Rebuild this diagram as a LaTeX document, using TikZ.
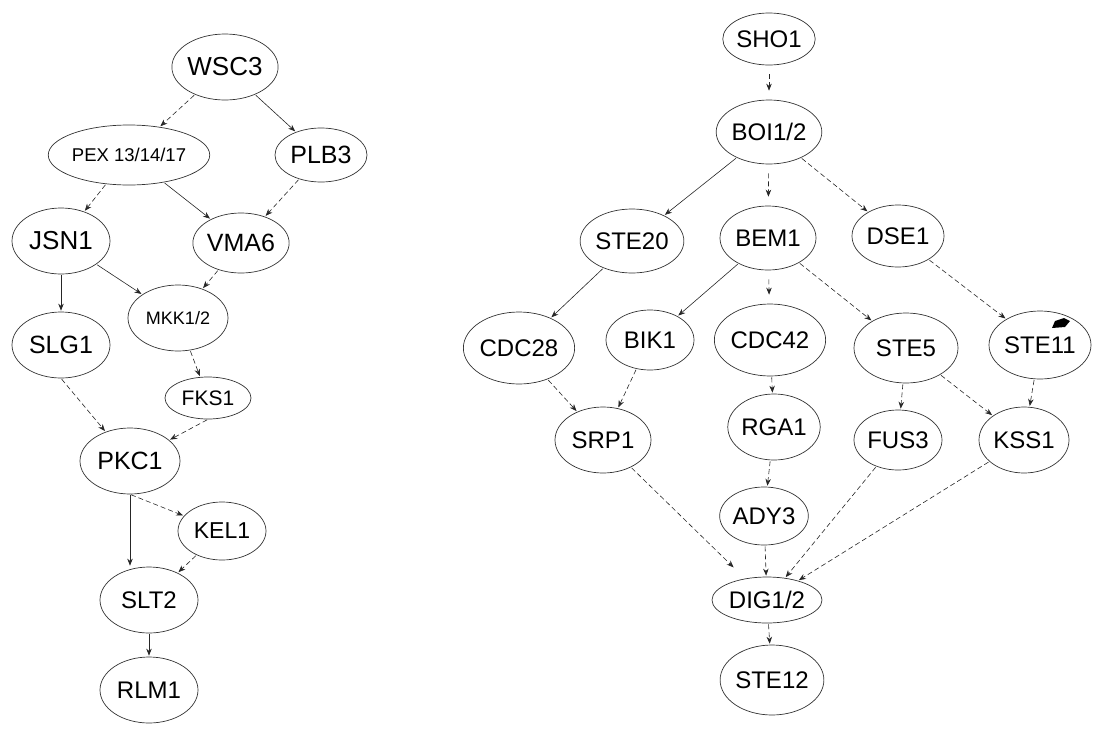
\documentclass[tikz,border=0pt]{standalone}
\usepackage{fontspec}
\setmainfont{Liberation Sans}
\usetikzlibrary{shapes.geometric,arrows.meta}
\tikzset{
  nd/.style={ellipse, draw=black!80, line width=0.7pt, inner sep=0pt, font=\fontsize{24}{26}\selectfont},
  ar/.style={-{Stealth[length=7pt,width=5.5pt]}, line width=0.6pt, draw=black!85, shorten >=1pt, shorten <=1pt},
  da/.style={ar, dash pattern=on 5pt off 3pt},
  gap/.style={shorten <=9pt, shorten >=9pt}
}
\begin{document}
\begin{tikzpicture}[x=1pt,y=-1pt]
\path[use as bounding box] (0,0) rectangle (1104,734);
% left graph
\node[nd, minimum width=100pt, minimum height=66pt, font=\fontsize{26}{28}\selectfont] (WSC3) at (225,67) {WSC3};
\node[nd, minimum width=158pt, minimum height=60pt, font=\fontsize{18.5}{20}\selectfont] (PEX) at (129,155) {PEX 13/14/17};
\node[nd, minimum width=92pt, minimum height=54pt, font=\fontsize{25}{27}\selectfont] (PLB3) at (321,155) {PLB3};
\node[nd, minimum width=98pt, minimum height=66pt, font=\fontsize{26}{28}\selectfont] (JSN1) at (61,241) {JSN1};
\node[nd, minimum width=92pt, minimum height=60pt, font=\fontsize{25}{27}\selectfont] (VMA6) at (241,243) {VMA6};
\node[nd, minimum width=100pt, minimum height=66pt, font=\fontsize{18}{20}\selectfont] (MKK) at (178,318) {MKK1/2};
\node[nd, minimum width=98pt, minimum height=66pt, font=\fontsize{25}{27}\selectfont] (SLG1) at (61,345) {SLG1};
\node[nd, minimum width=86pt, minimum height=42pt, font=\fontsize{21}{23}\selectfont] (FKS1) at (208,398) {FKS1};
\node[nd, minimum width=100pt, minimum height=66pt, font=\fontsize{25}{27}\selectfont] (PKC1) at (130,461) {PKC1};
\node[nd, minimum width=88pt, minimum height=58pt, font=\fontsize{23}{25}\selectfont] (KEL1) at (222,531) {KEL1};
\node[nd, minimum width=98pt, minimum height=66pt] (SLT2) at (149,600) {SLT2};
\node[nd, minimum width=98pt, minimum height=66pt] (RLM1) at (149,690) {RLM1};
% right graph
\node[nd, minimum width=88pt, minimum height=52pt] (SHO1) at (769,39) {SHO1};
\node[nd, minimum width=104pt, minimum height=64pt] (BOI) at (769,132) {BOI1/2};
\node[nd, minimum width=100pt, minimum height=64pt] (STE20) at (632,241) {STE20};
\node[nd, minimum width=96pt, minimum height=64pt] (BEM1) at (768,238) {BEM1};
\node[nd, minimum width=92pt, minimum height=62pt] (DSE1) at (898,236) {DSE1};
\node[nd, minimum width=106pt, minimum height=72pt] (CDC28) at (519,348) {CDC28};
\node[nd, minimum width=88pt, minimum height=60pt] (BIK1) at (650,340) {BIK1};
\node[nd, minimum width=108pt, minimum height=72pt] (CDC42) at (770,340) {CDC42};
\node[nd, minimum width=104pt, minimum height=70pt] (STE5) at (906,348) {STE5};
\node[nd, minimum width=102pt, minimum height=68pt] (STE11) at (1040,345) {STE11};
\node[nd, minimum width=96pt, minimum height=66pt] (SRP1) at (603,440) {SRP1};
\node[nd, minimum width=92pt, minimum height=66pt] (RGA1) at (774,427) {RGA1};
\node[nd, minimum width=88pt, minimum height=60pt] (FUS3) at (898,440) {FUS3};
\node[nd, minimum width=90pt, minimum height=66pt] (KSS1) at (1024,440) {KSS1};
\node[nd, minimum width=86pt, minimum height=58pt] (ADY3) at (764,516) {ADY3};
\node[nd, minimum width=110pt, minimum height=46pt] (DIG) at (767,600) {DIG1/2};
\node[nd, minimum width=100pt, minimum height=70pt] (STE12) at (772,680) {STE12};
% blob on STE11
\fill[black] (1052,328) -- (1055,321) -- (1064,318) -- (1070,321) -- (1065,327) -- cycle;
% left edges
\draw[da] (WSC3) -- (PEX);
\draw[ar] (WSC3) -- (PLB3);
\draw[da] (PEX) -- (JSN1);
\draw[ar] (PEX) -- (VMA6);
\draw[da] (PLB3) -- (VMA6);
\draw[ar] (JSN1) -- (SLG1);
\draw[ar] (JSN1) -- (MKK);
\draw[da] (VMA6) -- (MKK);
\draw[da] (MKK) -- (FKS1);
\draw[da] (SLG1.south) -- (PKC1);
\draw[da] (FKS1.south) -- (PKC1);
\draw[ar] (PKC1.south) -- (PKC1.south |- SLT2.north);
\draw[da] (PKC1.south) -- (KEL1);
\draw[da] (KEL1) -- (SLT2);
\draw[ar] (SLT2) -- (RLM1);
% right edges
\draw[da, gap] (SHO1) -- (BOI);
\draw[ar] (BOI) -- (STE20);
\draw[da, gap] (BOI) -- (BEM1);
\draw[da] (BOI) -- (DSE1);
\draw[ar] (STE20) -- (CDC28);
\draw[ar] (BEM1) -- (BIK1);
\draw[da, gap] (BEM1) -- (CDC42);
\draw[da] (BEM1) -- (STE5);
\draw[da] (DSE1) -- (STE11);
\draw[da] (CDC28) -- (SRP1);
\draw[da] (BIK1) -- (SRP1);
\draw[da] (CDC42) -- (RGA1);
\draw[da] (STE5) -- (FUS3);
\draw[da] (STE5) -- (KSS1);
\draw[da] (STE11) -- (KSS1);
\draw[da] (RGA1) -- (ADY3);
\draw[da, shorten >=16pt] (SRP1) -- (DIG);
\draw[da] (ADY3) -- (DIG);
\draw[da] (FUS3) -- (DIG);
\draw[da] (KSS1) -- (DIG);
\draw[da] (DIG) -- (STE12);
\end{tikzpicture}
\end{document}
